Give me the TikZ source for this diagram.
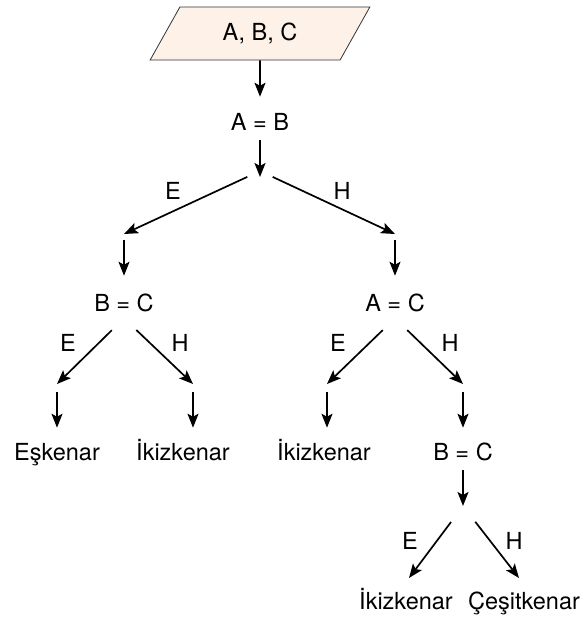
\documentclass[tikz,border=0pt]{standalone}
\usepackage{fontspec}
\setmainfont{TeX Gyre Heros}
\usepackage{tikz}
\usetikzlibrary{shapes.geometric, arrows.meta}
\definecolor{inputfill}{RGB}{253, 241, 232}

\begin{document}
\begin{tikzpicture}[x=1pt, y=-1pt,
    every node/.style={font=\fontsize{23.5}{28}\selectfont},
    txt/.style={inner xsep=0pt, inner ysep=6.6pt, text height=16.9pt, text depth=0pt},
    arr/.style={-{Stealth[length=14pt, width=11pt, inset=3pt]}, line width=1.7pt},
    inbox/.style={trapezium, trapezium left angle=56.6, trapezium right angle=123.4,
        trapezium stretches=true, draw=black!80, line width=0.8pt, fill=inputfill,
        minimum width=220pt, minimum height=53pt, inner sep=0pt}]
    \useasboundingbox (0,0) rectangle (584,622);

    % input and tests
    \node[inbox] (in) at (260,33.5) {A, B, C};
    \node[txt] (ab) at (260,122) {A = B};
    \node[txt] (bcl) at (124,303) {B = C};
    \node[txt] (ac) at (395,303) {A = C};
    \node[txt] (bcr) at (463,452) {B = C};

    % results
    \node[txt] (esk) at (57,452) {Eşkenar};
    \node[txt] (ikzl) at (183,452) {İkizkenar};
    \node[txt] (ikzm) at (324,452) {İkizkenar};
    \node[txt] (ikzr) at (406,601) {İkizkenar};
    \node[txt] (cesit) at (524,601) {Çeşitkenar};

    % branch points
    \coordinate (s0) at (260,171);
    \coordinate (jl0) at (124,234);
    \coordinate (jr0) at (395,234);
    \coordinate (jl1) at (57,384);
    \coordinate (jr1) at (193,384);
    \coordinate (jl2) at (327,384);
    \coordinate (jr2) at (463,384);
    \coordinate (s3) at (463,506);
    \coordinate (tl3) at (409,578);
    \coordinate (tr3) at (519,578);

    \draw[arr, shorten >=10pt] (in) -- (ab);
    \draw[arr, shorten <=3pt, shorten >=-6pt] (ab) -- (s0);
    \draw[arr, shorten <=14pt] (s0) -- (jl0);
    \draw[arr, shorten <=14pt] (s0) -- (jr0);
    \draw[arr, shorten <=6pt, shorten >=12pt] (jl0) -- (bcl);
    \draw[arr, shorten <=6pt, shorten >=12pt] (jr0) -- (ac);

    \draw[arr, shorten <=17pt] (bcl.south) -- (jl1);
    \draw[arr, shorten <=17pt] (bcl.south) -- (jr1);
    \draw[arr, shorten <=17pt] (ac.south) -- (jl2);
    \draw[arr, shorten <=17pt] (ac.south) -- (jr2);
    \draw[arr, shorten <=8pt, shorten >=9pt] (jl1) -- (jl1 |- esk.north);
    \draw[arr, shorten <=8pt, shorten >=9pt] (jr1) -- (jr1 |- ikzl.north);
    \draw[arr, shorten <=8pt, shorten >=9pt] (jl2) -- (jl2 |- ikzm.north);
    \draw[arr, shorten <=8pt, shorten >=9pt] (jr2) -- (jr2 |- bcr.north);

    \draw[arr, shorten <=3pt] (bcr) -- (s3);
    \draw[arr, shorten <=20pt] (s3) -- (tl3);
    \draw[arr, shorten <=20pt] (s3) -- (tr3);

    % branch labels
    \node[txt] (e0) at (173,191) {E};
    \node[txt] (h0) at (342,191) {H};
    \node[txt] (e1) at (68,343) {E};
    \node[txt] (h1) at (180,343) {H};
    \node[txt] (e2) at (338,343) {E};
    \node[txt] (h2) at (450,343) {H};
    \node[txt] (e3) at (410,541) {E};
    \node[txt] (h3) at (514,541) {H};
\end{tikzpicture}
\end{document}
